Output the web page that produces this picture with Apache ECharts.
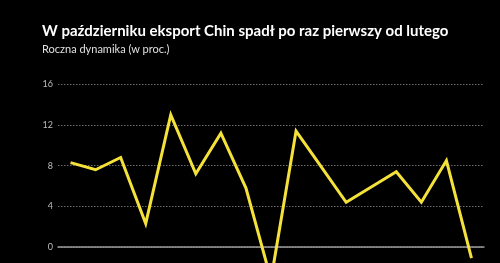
<!DOCTYPE html>
<html>
<head>
<meta charset="utf-8">
<script src="https://cdn.jsdelivr.net/npm/echarts@6/dist/echarts.min.js"></script>
<style>
html,body{margin:0;padding:0;background:#000;}
#chart{width:500px;height:263px;}
</style>
</head>
<body>
<div id="chart"></div>
<script>
const titleText = 'W październiku eksport Chin spadł po raz pierwszy od lutego';
const subtitleText = 'Roczna dynamika (w proc.)';
const months = ['VI 2024','VII','VIII','IX','X','XI','XII','I 2025','II','III','IV','V','VI','VII','VIII','IX','X'];
const exportsYoY = [8.3, 7.6, 8.8, 2.3, 13.0, 7.2, 11.2, 5.8, -3.2, 11.4, 7.9, 4.4, 5.9, 7.4, 4.4, 8.5, -1.1];
const yTicks = [-4, 0, 4, 8, 12, 16];

const chart = echarts.init(document.getElementById('chart'), null, {renderer:'canvas'});
chart.setOption({
  backgroundColor: '#000',
  animation: false,
  title: [
    {text: titleText, left: 42, top: 24, padding: 0, textStyle: {color:'#fff', fontFamily:'Lato', fontWeight:'bold', fontSize:15}},
    {text: subtitleText, left: 42, top: 44, padding: 0, textStyle: {color:'#e0e0e0', fontFamily:'Lato', fontWeight:'normal', fontSize:11}}
  ],
  grid: {left: 58, width: 426, top: 84.3, height: 203.4, containLabel: false, outerBoundsMode: 'none'},
  xAxis: {
    type: 'category',
    data: months,
    boundaryGap: true,
    axisLine: {show: true, onZero: true, lineStyle: {color:'#9a9a9a', width: 1.5}},
    axisTick: {show: false},
    axisLabel: {show: false},
    splitLine: {show: false}
  },
  yAxis: {
    type: 'value',
    min: yTicks[0],
    max: yTicks[yTicks.length-1],
    interval: 4,
    axisLine: {show: false},
    axisTick: {show: false},
    axisLabel: {color:'#bdbdbd', fontFamily:'Lato', fontSize:9, margin:5,
      formatter: v => (v === 0 ? '0' : String(v))},
    splitLine: {lineStyle: {color:'#6a6a6a', type:[1.5,1.5], width:1}}
  },
  series: [{
    type: 'line',
    data: exportsYoY,
    symbol: 'none',
    lineStyle: {color:'#f4e23a', width: 3, join:'miter'},
    clip: false
  }]
});
</script>
</body>
</html>
